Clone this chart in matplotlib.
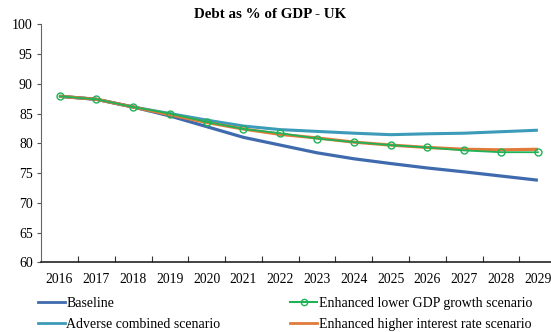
import matplotlib
matplotlib.use("Agg")
import matplotlib.pyplot as plt
from matplotlib.lines import Line2D

years = [str(y) for y in range(2016, 2030)]
baseline = [87.9, 87.4, 86.1, 84.6, 82.8, 81.0, 79.7, 78.4, 77.4, 76.6, 75.85, 75.2, 74.5, 73.8]
adverse = [87.9, 87.4, 86.1, 85.0, 83.9, 82.9, 82.3, 82.0, 81.7, 81.45, 81.6, 81.7, 81.95, 82.2]
lower_gdp = [87.9, 87.4, 86.1, 85.0, 83.6, 82.4, 81.7, 80.8, 80.2, 79.7, 79.3, 78.8, 78.5, 78.5]
higher_rate = [87.9, 87.4, 86.1, 84.8, 83.5, 82.4, 81.5, 80.9, 80.2, 79.7, 79.3, 79.0, 78.9, 79.0]
yticks = [60, 65, 70, 75, 80, 85, 90, 95, 100]

c_base = '#3F6AAD'
c_adv = '#3C9BB8'
c_gdp = '#1FB257'
c_rate = '#E07B39'

plt.rcParams['font.family'] = ['Liberation Serif', 'DejaVu Serif']
fig = plt.figure(figsize=(5.51, 3.32), dpi=100)
ax = fig.add_axes([0.0746, 0.2099, 0.935, 0.7169])

x = list(range(len(years)))
ax.plot(x, baseline, color=c_base, lw=2.3, solid_capstyle='butt', zorder=3)
ax.plot(x, adverse, color=c_adv, lw=2.2, solid_capstyle='butt', zorder=2)
ax.plot(x, lower_gdp, color=c_gdp, lw=1.3, marker='o', ms=5, mfc='none', mec=c_gdp, mew=1.0, zorder=4)
ax.plot(x, higher_rate, color=c_rate, lw=2.3, solid_capstyle='butt', zorder=3)

ax.set_xlim(-0.5, len(years) - 0.5)
ax.set_ylim(60, 100)
ax.set_yticks(yticks)
ax.set_yticklabels([str(v) for v in yticks], fontsize=10)
ax.set_xticks([i + 0.5 for i in range(len(years) - 1)])
ax.set_xticklabels([])
ax.set_xticks(x, minor=True)
ax.set_xticklabels(years, minor=True, fontsize=9.8)
ax.tick_params(axis='x', which='minor', length=0, pad=8)
ax.tick_params(axis='x', which='major', direction='in', length=4, color='#333333')
ax.tick_params(axis='y', direction='out', length=3, color='#555555', pad=3)
ax.spines['top'].set_visible(False)
ax.spines['right'].set_visible(False)
ax.spines['left'].set_color('#666666')
ax.spines['bottom'].set_color('#222222')
ax.spines['bottom'].set_linewidth(1.2)

fig.text(270 / 551, 1 - 14 / 332, 'Debt as % of GDP - UK', fontsize=10.8, fontweight='bold',
         ha='center', va='center')

handles = [
    Line2D([], [], color=c_base, lw=2),
    Line2D([], [], color=c_adv, lw=2),
    Line2D([], [], color=c_gdp, lw=1.5, marker='o', ms=4.5, mfc='none', mew=1.0),
    Line2D([], [], color=c_rate, lw=2),
]
labels = ['Baseline', 'Adverse combined scenario', 'Enhanced lower GDP growth scenario',
          'Enhanced higher interest rate scenario']
fig.legend(handles, labels, ncol=2, loc='upper left', bbox_to_anchor=(38 / 551, 1 - 297 / 332),
           frameon=False, fontsize=10, handlelength=1.95, handletextpad=0.1,
           columnspacing=5.0, labelspacing=0.55, borderaxespad=0, borderpad=0)

fig.savefig('out.png', dpi=100)
